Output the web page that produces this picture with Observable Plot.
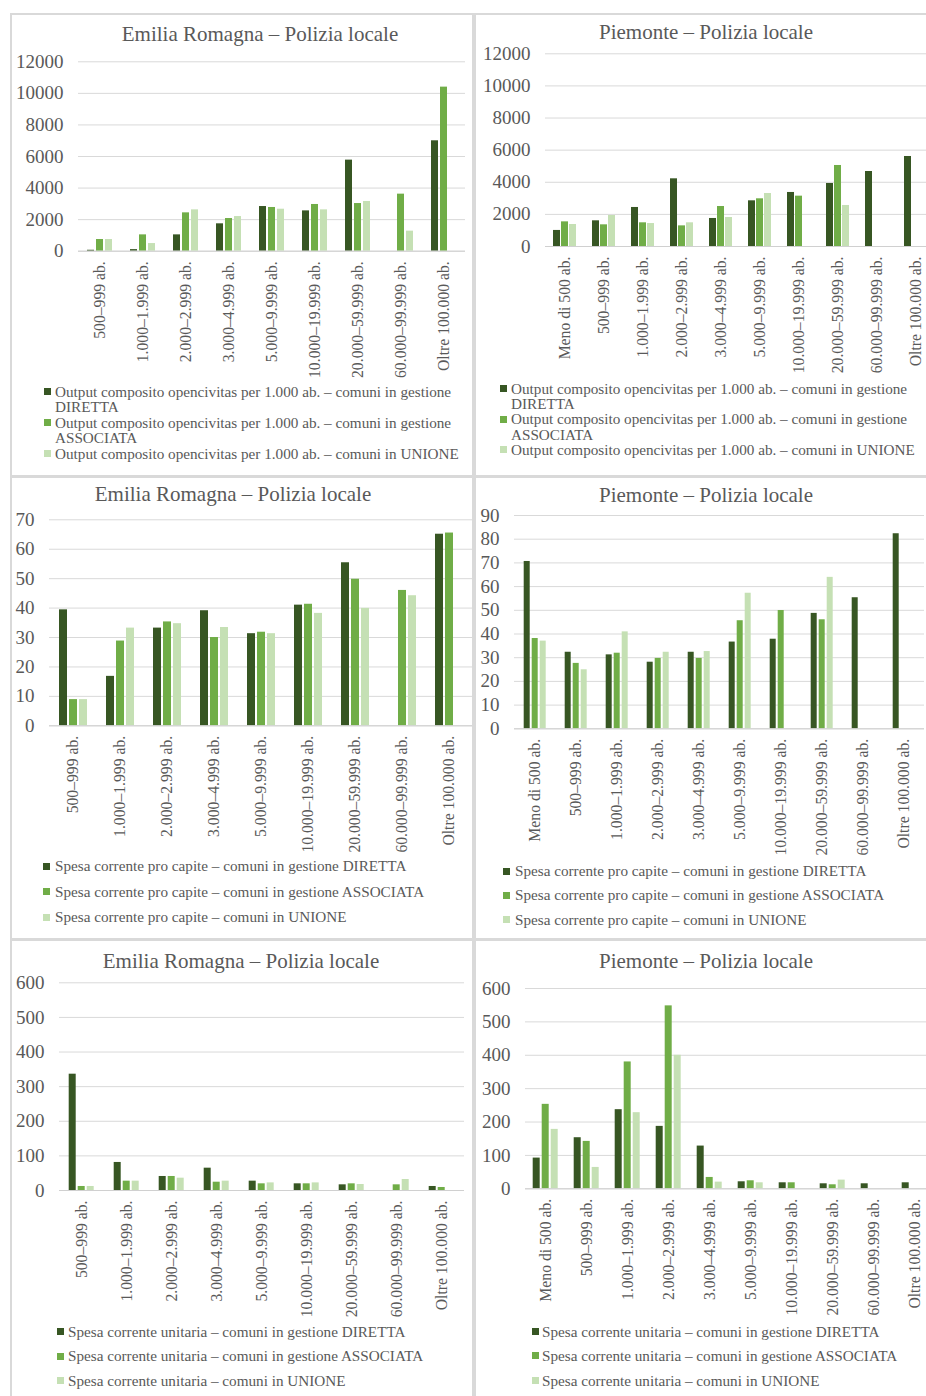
<!DOCTYPE html>
<html>
<head>
<meta charset="utf-8">
<script src="https://cdn.jsdelivr.net/npm/d3@7"></script>
<script src="https://cdn.jsdelivr.net/npm/@observablehq/plot@0.6"></script>
<style>
  html, body { margin: 0; padding: 0; background: #fff; overflow: hidden; }
  #page { position: relative; width: 926px; height: 1396px; overflow: hidden; background: #fff;
          font-family: "Liberation Serif", "DejaVu Serif", serif; color: #595959; }
  .panel { position: absolute; border: 2px solid #d9d9d9; box-sizing: border-box; }
  .title { position: absolute; font-size: 21px; white-space: nowrap; transform: translate(-50%, -50%); }
  .chart { position: absolute; }
  .leg { position: absolute; font-size: 15.2px; line-height: 15.4px; }
  .sw { position: absolute; width: 7px; height: 7px; }
</style>
</head>
<body>
<div id="page"></div>
<script>
// ---------- DATA ----------
const catsER = ["500–999 ab.", "1.000–1.999 ab.", "2.000–2.999 ab.", "3.000–4.999 ab.", "5.000–9.999 ab.",
  "10.000–19.999 ab.", "20.000–59.999 ab.", "60.000–99.999 ab.", "Oltre 100.000 ab."];
const catsPI = ["Meno di 500 ab.", "500–999 ab.", "1.000–1.999 ab.", "2.000–2.999 ab.", "3.000–4.999 ab.",
  "5.000–9.999 ab.", "10.000–19.999 ab.", "20.000–59.999 ab.", "60.000–99.999 ab.", "Oltre 100.000 ab."];

const seriesKeys = ["DIRETTA", "ASSOCIATA", "UNIONE"];
const seriesColors = ["#375623", "#70ad47", "#c5e0b4"];

const titleER = "Emilia Romagna – Polizia locale";
const titlePI = "Piemonte – Polizia locale";

const legendOutput = ["Output composito opencivitas per 1.000 ab. – comuni in gestione DIRETTA",
  "Output composito opencivitas per 1.000 ab. – comuni in gestione ASSOCIATA",
  "Output composito opencivitas per 1.000 ab. – comuni in UNIONE"];
const legendSpesa = ["Spesa corrente pro capite – comuni in gestione DIRETTA",
  "Spesa corrente pro capite – comuni in gestione ASSOCIATA",
  "Spesa corrente pro capite – comuni in UNIONE"];
const legendUnit = ["Spesa corrente unitaria – comuni in gestione DIRETTA",
  "Spesa corrente unitaria – comuni in gestione ASSOCIATA",
  "Spesa corrente unitaria – comuni in UNIONE"];

const ticksOutput = [0, 2000, 4000, 6000, 8000, 10000, 12000];
const ticksSpesaER = [0, 10, 20, 30, 40, 50, 60, 70];
const ticksSpesaPI = [0, 10, 20, 30, 40, 50, 60, 70, 80, 90];
const ticksUnit = [0, 100, 200, 300, 400, 500, 600];

// Emilia Romagna – output composito
const erOutDiretta   = [60, 100, 1035, 1735, 2830, 2555, 5770, null, 6995];
const erOutAssociata = [740, 1035, 2430, 2070, 2770, 2960, 3020, 3615, 10395];
const erOutUnione    = [740, 485, 2620, 2195, 2660, 2620, 3150, 1270, null];
// Piemonte – output composito
const piOutDiretta   = [1000, 1600, 2430, 4215, 1745, 2845, 3365, 3925, 4670, 5605];
const piOutAssociata = [1535, 1350, 1475, 1285, 2490, 2970, 3135, 5045, null, null];
const piOutUnione    = [1370, 1930, 1430, 1475, 1805, 3300, null, 2555, null, null];
// Emilia Romagna – spesa pro capite
const erSpesaDiretta   = [39.4, 16.8, 33.2, 39.1, 31.3, 41.0, 55.4, null, 65.1];
const erSpesaAssociata = [8.9, 28.8, 35.3, 30.0, 31.8, 41.3, 49.8, 46.0, 65.5];
const erSpesaUnione    = [8.9, 33.2, 34.7, 33.4, 31.3, 38.2, 39.9, 44.2, null];
// Piemonte – spesa pro capite
const piSpesaDiretta   = [70.6, 32.3, 31.2, 28.1, 32.3, 36.6, 37.8, 48.7, 55.3, 82.3];
const piSpesaAssociata = [38.1, 27.6, 31.9, 29.7, 29.7, 45.6, 49.9, 46.0, null, null];
const piSpesaUnione    = [37.0, 24.9, 40.9, 32.3, 32.6, 57.2, null, 63.9, null, null];
// Emilia Romagna – spesa unitaria
const erUnitDiretta   = [336, 81, 40.5, 64.5, 27, 19.3, 16.4, null, 11.6];
const erUnitAssociata = [11.6, 27, 40.5, 24, 19.3, 19.3, 19.3, 16.4, 8.7];
const erUnitUnione    = [11.6, 27, 35.6, 27, 22, 22, 17.3, 31.8, null];
// Piemonte – spesa unitaria
const piUnitDiretta   = [92, 153, 237, 187, 128, 21, 18, 15, 15, 18];
const piUnitAssociata = [253, 142, 380, 548, 34, 24, 18, 12, null, null];
const piUnitUnione    = [178, 64, 228, 400, 20, 18, null, 26, null, null];

// ---------- BUILD ----------
function toRows(cats, lists) {
  const rows = [];
  lists.forEach((vals, si) => vals.forEach((v, ci) => {
    if (v != null) rows.push({cat: cats[ci], series: seriesKeys[si], value: v});
  }));
  return rows;
}

const page = document.getElementById("page");

// panel frames
[[10, 13, 464, 464], [474, 13, 470, 464], [10, 476, 464, 464], [474, 476, 470, 464],
 [10, 939, 464, 470], [474, 939, 470, 470]].forEach(([l, t, w, h]) => {
  const d = document.createElement("div");
  d.className = "panel";
  Object.assign(d.style, {left: l + "px", top: t + "px", width: w + "px", height: h + "px"});
  page.appendChild(d);
});

const charts = [
  {title: titleER, cats: catsER, lists: [erOutDiretta, erOutAssociata, erOutUnione], ticks: ticksOutput,
   legend: legendOutput, wrap: 418,
   left: 10, top: 45, width: 463, mt: 16.3, bottomY: 250.7, height: 340, ml: 66, mr: 7,
   pi: 0.24, po: 0.9, titleX: 260, titleY: 34, swX: 44, txX: 55, legTop: 384},
  {title: titlePI, cats: catsPI, lists: [piOutDiretta, piOutAssociata, piOutUnione], ticks: ticksOutput,
   legend: legendOutput, wrap: 418,
   left: 474, top: 40, width: 466, mt: 13.3, bottomY: 246, height: 340, ml: 67, mr: 1,
   pi: 0.18, po: 0.8, titleX: 706, titleY: 32, swX: 500, txX: 511, legTop: 380.6},
  {title: titleER, cats: catsER, lists: [erSpesaDiretta, erSpesaAssociata, erSpesaUnione], ticks: ticksSpesaER,
   legend: legendSpesa, wrap: 0,
   left: 10, top: 505, width: 463, mt: 14.3, bottomY: 725.3, height: 353, ml: 38, mr: 0.5,
   pi: 0.2, po: 0.95, titleX: 233, titleY: 494, swX: 43, txX: 55, legYs: [866, 891.3, 917]},
  {title: titlePI, cats: catsPI, lists: [piSpesaDiretta, piSpesaAssociata, piSpesaUnione], ticks: ticksSpesaPI,
   legend: legendSpesa, wrap: 0,
   left: 474, top: 503, width: 466, mt: 12, bottomY: 728.3, height: 359, ml: 38.3, mr: 14.5,
   pi: 0.19, po: 0.89, titleX: 706, titleY: 495, swX: 503, txX: 515, legYs: [871, 895, 919.3]},
  {title: titleER, cats: catsER, lists: [erUnitDiretta, erUnitAssociata, erUnitUnione], ticks: ticksUnit,
   legend: legendUnit, wrap: 0,
   left: 10, top: 970, width: 463, mt: 12.3, bottomY: 1190, height: 352, ml: 47.3, mr: 8,
   pi: 0.21, po: 1.04, titleX: 241, titleY: 961, swX: 57, txX: 68, legYs: [1331.7, 1356, 1380.7]},
  {title: titlePI, cats: catsPI, lists: [piUnitDiretta, piUnitAssociata, piUnitUnione], ticks: ticksUnit,
   legend: legendUnit, wrap: 0,
   left: 474, top: 975, width: 466, mt: 13, bottomY: 1188.3, height: 347, ml: 48.3, mr: 3,
   pi: 0.2, po: 0.86, titleX: 706, titleY: 961, swX: 532, txX: 542, legYs: [1331.7, 1355.7, 1380.7]}
];

charts.forEach(c => {
  // title
  const t = document.createElement("div");
  t.className = "title";
  t.textContent = c.title;
  Object.assign(t.style, {left: c.titleX + "px", top: c.titleY + "px"});
  page.appendChild(t);

  const data = toRows(c.cats, c.lists);
  const plotBottom = c.bottomY - c.top;
  const svg = Plot.plot({
    width: c.width,
    height: c.height,
    marginTop: c.mt,
    marginBottom: c.height - plotBottom,
    marginLeft: c.ml,
    marginRight: c.mr,
    style: {fontFamily: '"Liberation Serif", "DejaVu Serif", serif', color: "#595959", background: "transparent", overflow: "visible"},
    fx: {domain: c.cats, padding: 0, label: null},
    x: {domain: seriesKeys, paddingInner: c.pi, paddingOuter: c.po, axis: null},
    y: {domain: [c.ticks[0], c.ticks[c.ticks.length - 1]], label: null},
    color: {domain: seriesKeys, range: seriesColors},
    marks: [
      Plot.gridY(c.ticks, {stroke: "#d9d9d9", strokeOpacity: 1, strokeWidth: 1}),
      Plot.barY(data, {fx: "cat", x: "series", y: "value", fill: "series"}),
      Plot.ruleY([0], {stroke: "#d0d0d0", strokeWidth: 1}),
      Plot.axisY(c.ticks, {tickSize: 0, tickPadding: 15, fontSize: 19, tickFormat: d3.format("d"), label: null}),
      Plot.axisFx({anchor: "bottom", tickRotate: -90, tickSize: 0, tickPadding: 10, fontSize: 15.7, label: null})
    ]
  });
  svg.classList.add("chart");
  svg.style.left = c.left + "px";
  svg.style.top = c.top + "px";
  svg.style.position = "absolute";
  page.appendChild(svg);

  // legend
  c.legend.forEach((label, i) => {
    const sw = document.createElement("div");
    sw.className = "sw";
    sw.style.background = seriesColors[i];
    const tx = document.createElement("div");
    tx.className = "leg";
    tx.textContent = label;
    let cy;
    if (c.wrap) {
      tx.style.width = c.wrap + "px";
      const lineTop = c.legTop + [0, 2, 4][i] * 15.4;
      tx.style.top = lineTop + "px";
      cy = lineTop + 7.7;
    } else {
      tx.style.whiteSpace = "nowrap";
      tx.style.top = (c.legYs[i] - 7.7) + "px";
      cy = c.legYs[i];
    }
    tx.style.left = c.txX + "px";
    sw.style.left = c.swX + "px";
    sw.style.top = (cy - 3.5) + "px";
    page.appendChild(sw);
    page.appendChild(tx);
  });
});
</script>
</body>
</html>
